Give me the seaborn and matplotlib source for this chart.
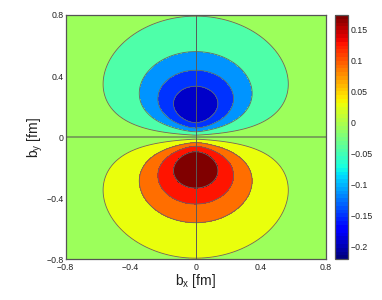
import numpy as np
import pandas as pd
import seaborn as sns
import matplotlib
import matplotlib.pyplot as plt
from matplotlib.colors import Normalize
from matplotlib.cm import ScalarMappable

sns.set_theme(style="white")
plt.rcParams['font.family'] = ['Liberation Sans', 'DejaVu Sans']
plt.rcParams['mathtext.fontset'] = 'custom'
plt.rcParams['mathtext.rm'] = 'Liberation Sans'
plt.rcParams['mathtext.it'] = 'Liberation Sans'

# field: dipole with peak at b_y = +-peak_pos
peak_pos = 0.19        # fm, centre of the inner ellipses
peak_val = 0.20        # magnitude at the centres
x_stretch = 1.07       # contours a bit wider in b_x than in b_y

# contour levels and the colour value of each filled band (inside out)
levels = [-0.30, -0.165, -0.125, -0.084, -0.035, 0.035, 0.084, 0.125, 0.165, 0.30]
band_values = [-0.191, -0.148, -0.112, -0.044, -0.006, 0.027, 0.090, 0.124, 0.173]

c_min, c_max = -0.221, 0.173
cbar_ticks = [-0.2, -0.15, -0.1, -0.05, 0, 0.05, 0.1, 0.15]
cbar_labels = ['\u22120.2', '\u22120.15', '\u22120.1', '\u22120.05', '0', '0.05', '0.1', '0.15']
axis_ticks = [-0.8, -0.4, 0, 0.4, 0.8]
axis_labels = ['\u22120.8', '\u22120.4', '0', '0.4', '0.8']

bx = np.linspace(-0.8, 0.8, 401)
by = np.linspace(-0.8, 0.8, 401)
BX, BY = np.meshgrid(bx, by)
R = np.sqrt((BX / x_stretch) ** 2 + BY ** 2)
F = -peak_val * (BY / peak_pos) * np.exp(1 - R / peak_pos)

cmap = plt.get_cmap('jet', 64)
norm = Normalize(vmin=c_min, vmax=c_max)
band_colors = [cmap(norm(v)) for v in band_values]

fig = plt.figure(figsize=(3.82, 3.0), dpi=100)
ax = fig.add_axes([65.7 / 382, 1 - 259.3 / 300, 260 / 382, 244.3 / 300])
cax = fig.add_axes([335 / 382, 1 - 259.3 / 300, 13 / 382, 244.3 / 300])

ax.contourf(BX, BY, F, levels=levels, colors=band_colors)
ax.contour(BX, BY, F, levels=levels[1:-1], colors='#666666', linewidths=0.6,
           negative_linestyles='solid')
ax.axhline(0, color='#6f8f55', lw=1.4, alpha=0.8)
ax.axvline(0, color='#5a5a5a', lw=0.7)

ax.set_xlim(-0.8, 0.8)
ax.set_ylim(-0.8, 0.8)
ax.set_xticks(axis_ticks)
ax.set_xticklabels(axis_labels)
ax.set_yticks(axis_ticks)
ax.set_yticklabels(axis_labels)
ax.tick_params(direction='in', length=3, width=0.5, color='#444444',
               labelsize=6.3, pad=1.5, top=True, right=True, labelcolor='#222222')
ax.tick_params(axis='x', pad=2.5)
for s in ax.spines.values():
    s.set_color('#555555')
    s.set_linewidth(0.9)
ax.set_xlabel(r'b$_{\rm x}$ [fm]', fontsize=10, labelpad=0, color='#222222')
ax.set_ylabel(r'b$_{\rm y}$ [fm]', fontsize=10, labelpad=1, color='#222222')

sm = ScalarMappable(norm=norm, cmap=cmap)
cb = fig.colorbar(sm, cax=cax)
cb.set_ticks(cbar_ticks)
cb.set_ticklabels(cbar_labels)
cb.ax.tick_params(direction='in', length=2, width=0.5, labelsize=6.3, pad=2,
                  left=True, right=True, color='#444444', labelcolor='#222222')
cb.outline.set_edgecolor('#555555')
cb.outline.set_linewidth(0.9)

fig.savefig('out.png', dpi=100)
